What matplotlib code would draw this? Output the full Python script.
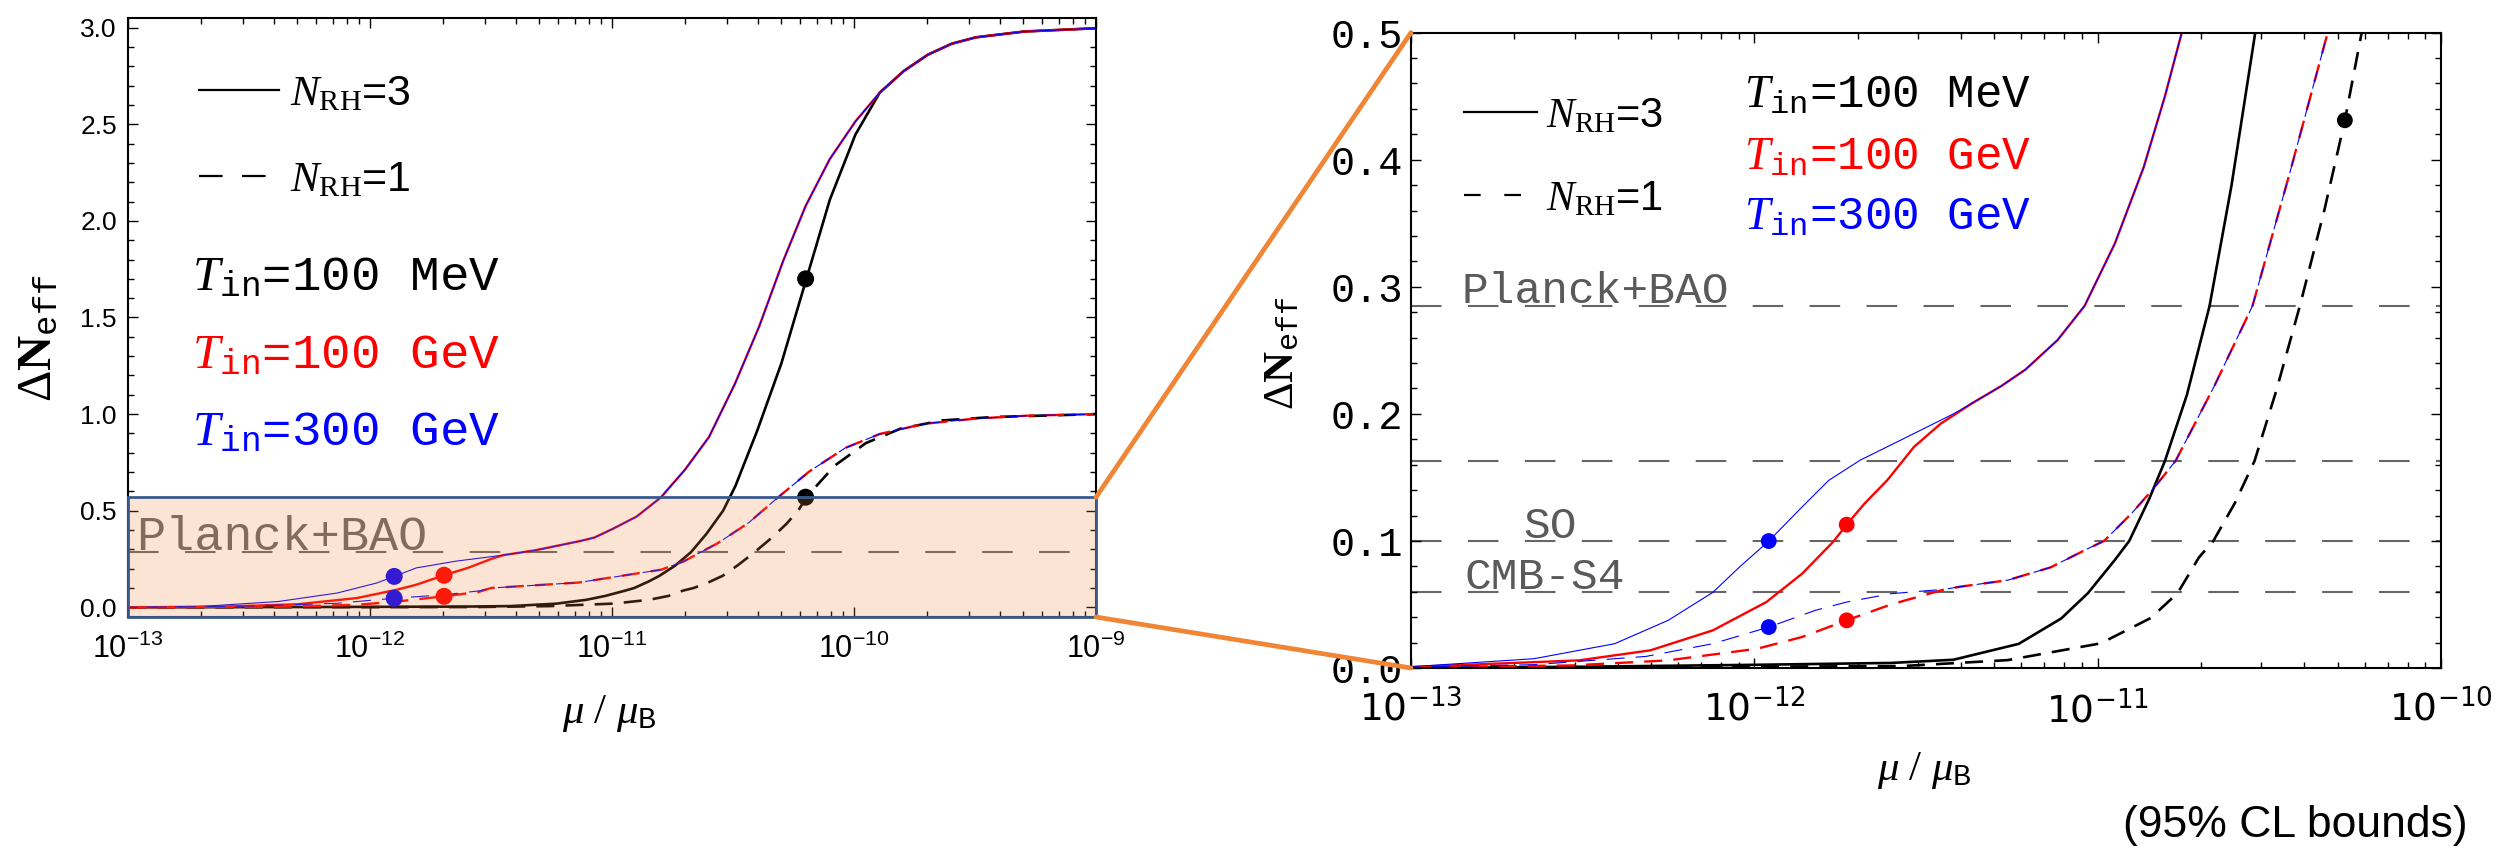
import numpy as np
import matplotlib
matplotlib.use('Agg')
import matplotlib.pyplot as plt
from matplotlib.patches import Rectangle, ConnectionPatch
from matplotlib.lines import Line2D
from matplotlib.ticker import LogLocator, FuncFormatter, MultipleLocator, FormatStrFormatter, NullFormatter

plt.rcParams['mathtext.fontset'] = 'custom'
plt.rcParams['mathtext.rm'] = 'Liberation Serif'
plt.rcParams['mathtext.it'] = 'Liberation Serif:italic'
plt.rcParams['mathtext.bf'] = 'Liberation Serif:bold'
plt.rcParams['mathtext.tt'] = 'Liberation Mono'
plt.rcParams['mathtext.sf'] = 'DejaVu Sans'
plt.rcParams['mathtext.cal'] = 'Liberation Sans'
plt.rcParams['lines.scale_dashes'] = False

# --- curves, x given as log10(mu/mu_B) ---
# T_in = 100 MeV (same in both panels)
lx_n3_mev = [-13.0, -12.5, -12.0, -11.6, -11.42, -11.23, -11.106, -11.028, -10.95, -10.908,
             -10.85, -10.804, -10.74, -10.674, -10.61, -10.541, -10.49, -10.40, -10.30, -10.20,
             -10.10, -9.994, -9.894, -9.795, -9.695, -9.596, -9.496, -9.297, -9.0]
n3_mev = [0.0, 0.001, 0.0025, 0.004, 0.0065, 0.019, 0.039, 0.059, 0.085, 0.10,
          0.133, 0.163, 0.215, 0.285, 0.38, 0.50, 0.628, 0.914, 1.263, 1.686,
          2.109, 2.447, 2.663, 2.775, 2.860, 2.917, 2.950, 2.980, 2.997]
lx_n1_mev = [-13.0, -12.5, -12.0, -11.57, -11.262, -10.991, -10.845, -10.767, -10.705, -10.663,
             -10.60, -10.543, -10.48, -10.411, -10.34, -10.28, -10.231, -10.193, -10.079, -9.951,
             -9.809, -9.638, -9.424, -9.0]
n1_mev = [0.0, 0.0005, 0.001, 0.0015, 0.0062, 0.0194, 0.0394, 0.059, 0.087, 0.10,
          0.13, 0.163, 0.218, 0.285, 0.36, 0.431, 0.50, 0.576, 0.734, 0.850,
          0.924, 0.967, 0.985, 1.0]

# left panel, T_in = 100 / 300 GeV
l_lx_n3_300 = [-13.0, -12.707, -12.38, -12.136, -11.972, -11.9, -11.809, -11.645, -11.5]
l_n3_300 = [0.0, 0.004, 0.030, 0.074, 0.126, 0.16, 0.204, 0.239, 0.262]
l_lx_n3_100 = [-13.0, -12.63, -12.299, -12.054, -11.89, -11.809, -11.694, -11.596, -11.5]
l_n3_100 = [0.0, 0.003, 0.016, 0.048, 0.091, 0.117, 0.166, 0.204, 0.25]
l_lx_n3_gev = [-11.45, -11.318, -11.132, -11.073, -10.997, -10.898, -10.798, -10.698, -10.599,
               -10.492, -10.392, -10.293, -10.2, -10.1, -9.994, -9.894, -9.795, -9.695,
               -9.596, -9.496, -9.297, -9.0]
l_n3_gev = [0.27, 0.295, 0.343, 0.361, 0.406, 0.470, 0.569, 0.713, 0.882,
            1.157, 1.453, 1.792, 2.077, 2.320, 2.515, 2.663, 2.775, 2.860,
            2.917, 2.950, 2.980, 2.997]
l_lx_n1_300 = [-13.0, -12.55, -12.136, -11.9, -11.694, -11.55]
l_n1_300 = [0.0, 0.005, 0.021, 0.047, 0.065, 0.085]
l_lx_n1_100 = [-13.0, -12.38, -12.054, -11.89, -11.694, -11.55]
l_n1_100 = [0.0, 0.003, 0.013, 0.030, 0.057, 0.08]
l_lx_n1_gev = [-11.5, -11.14, -10.796, -10.705, -10.641, -10.563, -10.435, -10.314, -10.186,
               -10.036, -9.894, -9.709, -9.496, -9.282, -9.0]
l_n1_gev = [0.10, 0.128, 0.195, 0.237, 0.280, 0.332, 0.438, 0.569, 0.702,
            0.825, 0.897, 0.950, 0.977, 0.992, 1.0]

# right panel, T_in = 100 / 300 GeV
r_lx_n3_300 = [-13.0, -12.642, -12.407, -12.251, -12.121, -12.043, -11.958, -11.861, -11.783,
               -11.692, -11.535, -11.42]
r_n3_300 = [0.001, 0.0073, 0.0191, 0.0375, 0.0595, 0.0795, 0.0999, 0.1267, 0.1477,
            0.1635, 0.1845, 0.200]
r_lx_n3_100 = [-13.0, -12.511, -12.303, -12.121, -11.965, -11.861, -11.77, -11.731, -11.679,
               -11.613, -11.535, -11.457]
r_n3_100 = [0.0008, 0.006, 0.0139, 0.0296, 0.0519, 0.0742, 0.0994, 0.1128, 0.1294,
            0.1477, 0.174, 0.1923]
r_lx_n3_gev = [-11.366, -11.28, -11.21, -11.117, -11.038, -10.95, -10.866, -10.804, -10.757, -10.72]
r_n3_gev = [0.2083, 0.222, 0.2349, 0.258, 0.285, 0.334, 0.394, 0.450, 0.498, 0.545]
r_lx_n1_300 = [-13.0, -12.642, -12.316, -12.121, -11.958, -11.822, -11.731, -11.601]
r_n1_300 = [0.0008, 0.0026, 0.0091, 0.0191, 0.0322, 0.0454, 0.0519, 0.0585]
r_lx_n1_100 = [-13.0, -12.534, -12.251, -11.991, -11.861, -11.731, -11.601]
r_n1_100 = [0.0005, 0.002, 0.006, 0.0152, 0.0244, 0.0375, 0.0501]
r_lx_n1_gev = [-11.444, -11.4, -11.262, -11.137, -11.028, -10.981, -10.90, -10.835, -10.773,
               -10.66, -10.549, -10.44, -10.33, -10.30]
r_n1_gev = [0.062, 0.064, 0.0691, 0.0792, 0.094, 0.1, 0.122, 0.142, 0.163,
            0.222, 0.285, 0.39, 0.50, 0.535]

# benchmark points
l_dot_lx = [-11.9, -11.9, -11.694, -11.694, -10.2, -10.2]
l_dot_y = [0.16, 0.047, 0.166, 0.057, 1.70, 0.57]
l_dot_c = ['blue', 'blue', 'red', 'red', 'black', 'black']
r_dot_lx = [-11.958, -11.958, -11.731, -11.731, -10.28]
r_dot_y = [0.0999, 0.0322, 0.1128, 0.0375, 0.431]
r_dot_c = ['blue', 'blue', 'red', 'red', 'black']

# 95% CL bounds
bound_vals = [0.285, 0.163, 0.1, 0.06]
bound_names = ['Planck+BAO', '', 'SO', 'CMB-S4']
bound_name_lx = [-12.854, None, -12.674, -12.843]
box_top = 0.57

W, H = 2501, 851
fig = plt.figure(figsize=(W / 100, H / 100), dpi=100)
ax1 = fig.add_axes([128 / W, 1 - 617 / H, 968 / W, 599 / H])
ax2 = fig.add_axes([1411 / W, 1 - 668 / H, 1030 / W, 635.4 / H])

CDASH = (0, (13, 8))
GDASH = (0, (22, 19))


def xs(lx):
    return 10 ** np.asarray(lx)


def draw_curves(ax, lx3_300, y3_300, lx3_100, y3_100, lx3_hi, y3_hi,
                lx1_300, y1_300, lx1_100, y1_100, lx1_hi, y1_hi):
    ax.plot(xs(lx_n3_mev), n3_mev, color='black', lw=1.9, zorder=2)
    ax.plot(xs(lx_n1_mev), n1_mev, color='black', lw=1.9, ls=CDASH, zorder=2)
    ax.plot(xs(lx3_100 + lx3_hi), y3_100 + y3_hi, color='red', lw=1.7, zorder=2)
    ax.plot(xs(lx3_300 + lx3_hi), y3_300 + y3_hi, color='blue', lw=0.8, zorder=2)
    ax.plot(xs(lx1_100 + lx1_hi), y1_100 + y1_hi, color='red', lw=1.7, ls=CDASH, zorder=2)
    ax.plot(xs(lx1_300 + lx1_hi), y1_300 + y1_hi, color='blue', lw=0.8, ls=(6, (13, 8)), zorder=2)


draw_curves(ax1, l_lx_n3_300, l_n3_300, l_lx_n3_100, l_n3_100, l_lx_n3_gev, l_n3_gev,
            l_lx_n1_300, l_n1_300, l_lx_n1_100, l_n1_100, l_lx_n1_gev, l_n1_gev)
draw_curves(ax2, r_lx_n3_300, r_n3_300, r_lx_n3_100, r_n3_100, r_lx_n3_gev, r_n3_gev,
            r_lx_n1_300, r_n1_300, r_lx_n1_100, r_n1_100, r_lx_n1_gev, r_n1_gev)

ax1.scatter(xs(l_dot_lx), l_dot_y, c=l_dot_c, s=150, zorder=3, linewidths=0)
ax2.scatter(xs(r_dot_lx), r_dot_y, c=r_dot_c, s=130, zorder=3, linewidths=0)

# bound lines
ax1.axhline(bound_vals[0], color='#666666', lw=1.5, ls=GDASH, zorder=1)
ax1.text(10 ** -12.967, bound_vals[0] + 0.012, bound_names[0], fontsize=35,
         family='Liberation Mono', color='#666666', va='baseline', zorder=1)
for v, name, nlx in zip(bound_vals, bound_names, bound_name_lx):
    ax2.axhline(v, color='#666666', lw=1.5, ls=GDASH, zorder=1)
    if name:
        ax2.text(10 ** nlx, v + 0.002, name, fontsize=32, family='Liberation Mono',
                 color='#5a5a5a', va='baseline', zorder=1)

# shaded zoom region and connectors
ax1.add_patch(Rectangle((1e-13, -0.05), 1e-9 - 1e-13, box_top + 0.05,
                        facecolor=(0.94, 0.51, 0.2, 0.21), edgecolor='#3a5a8f',
                        lw=2, zorder=5, clip_on=False))
for ya, yb in [(box_top, 0.5), (-0.05, 0.0)]:
    con = ConnectionPatch(xyA=(1e-9, ya), coordsA=ax1.transData,
                          xyB=(1e-13, yb), coordsB=ax2.transData,
                          color='#ef8535', lw=3.4)
    fig.add_artist(con)

# axes
for ax in (ax1, ax2):
    ax.set_xscale('log')
    ax.xaxis.set_minor_locator(LogLocator(base=10, subs=np.arange(2, 10)))
    ax.xaxis.set_minor_formatter(NullFormatter())
    ax.tick_params(which='both', direction='in', top=True, right=True, width=1.0)
    ax.tick_params(which='major', length=7)
    ax.tick_params(which='minor', length=4)
    for s in ax.spines.values():
        s.set_linewidth(1.5)

ax1.set_xlim(1e-13, 1e-9)
ax1.set_ylim(-0.05, 3.05)
ax1.xaxis.set_major_locator(LogLocator(base=10, numticks=10))
ax1.xaxis.set_major_formatter(FuncFormatter(lambda v, p: r'$\mathcal{10^{%d}}$' % round(np.log10(v))))
ax1.yaxis.set_major_locator(MultipleLocator(0.5))
ax1.yaxis.set_minor_locator(MultipleLocator(0.1))
ax1.yaxis.set_major_formatter(FormatStrFormatter('%.1f'))
ax1.tick_params(axis='x', which='major', labelsize=22, pad=11)
ax1.tick_params(axis='y', which='major', labelsize=19, pad=8, labelfontfamily='Liberation Sans')

ax2.set_xlim(1e-13, 1e-10)
ax2.set_ylim(0, 0.5)
ax2.xaxis.set_major_locator(LogLocator(base=10, numticks=10))
ax2.xaxis.set_major_formatter(FuncFormatter(lambda v, p: r'$\mathsf{10^{%d}}$' % round(np.log10(v))))
ax2.yaxis.set_major_locator(MultipleLocator(0.1))
ax2.yaxis.set_minor_locator(MultipleLocator(0.02))
ax2.yaxis.set_major_formatter(FormatStrFormatter('%.1f'))
ax2.tick_params(axis='x', which='major', labelsize=27, pad=16)
ax2.tick_params(axis='y', which='major', labelsize=29, pad=6, labelfontfamily='Liberation Mono')

# legends for N_RH
labels = [r'$N_{\mathrm{RH}}$=3', r'$N_{\mathrm{RH}}$=1']
l_handles = [Line2D([], [], color='black', lw=1.6),
             Line2D([], [], color='black', lw=1.6, ls=(0, (17, 14)))]
r_handles = [Line2D([], [], color='black', lw=1.6),
             Line2D([], [], color='black', lw=1.6, ls=(0, (12, 17)))]
ax1.legend(l_handles, labels, loc='upper left', bbox_to_anchor=(199 / W, 1 - 74 / H),
           bbox_transform=fig.transFigure, frameon=False, borderpad=0, borderaxespad=0,
           prop={'family': 'Liberation Sans', 'size': 31}, handlelength=1.86,
           handletextpad=0.26, labelspacing=1.08)
ax2.legend(r_handles, labels, loc='upper left', bbox_to_anchor=(1464 / W, 1 - 96 / H),
           bbox_transform=fig.transFigure, frameon=False, borderpad=0, borderaxespad=0,
           prop={'family': 'Liberation Sans', 'size': 30}, handlelength=1.75,
           handletextpad=0.22, labelspacing=1.03)

# initial temperature labels
tin_labels = [r'$T_{\mathtt{in}}$=100 MeV', r'$T_{\mathtt{in}}$=100 GeV', r'$T_{\mathtt{in}}$=300 GeV']
tin_colors = ['black', 'red', 'blue']
for lab, col, yl, yr in zip(tin_labels, tin_colors, [290, 368, 445], [108, 170, 230]):
    fig.text(192 / W, 1 - yl / H, lab, fontsize=35.5, color=col, family='Liberation Mono', va='baseline')
    fig.text(1744 / W, 1 - yr / H, lab, fontsize=33, color=col, family='Liberation Mono', va='baseline')

# axis labels
ylab = r'$\Delta\mathbf{N}_{\mathtt{eff}}$'
xlab = r'$\mu\ /\ \mu_{\mathtt{B}}$'
fig.text(37 / W, 1 - 338 / H, ylab, fontsize=35, rotation=90, ha='center', va='center')
fig.text(1281 / W, 1 - 353 / H, ylab, fontsize=31, rotation=90, ha='center', va='center')
fig.text(609 / W, 1 - 713 / H, xlab, fontsize=31, ha='center', va='center')
fig.text(1924 / W, 1 - 770 / H, xlab, fontsize=31, ha='center', va='center')
fig.text(2468 / W, 1 - 825 / H, '(95% CL bounds)', fontsize=32, family='Liberation Sans',
         ha='right', va='center')

fig.savefig('out.png', dpi=100)
